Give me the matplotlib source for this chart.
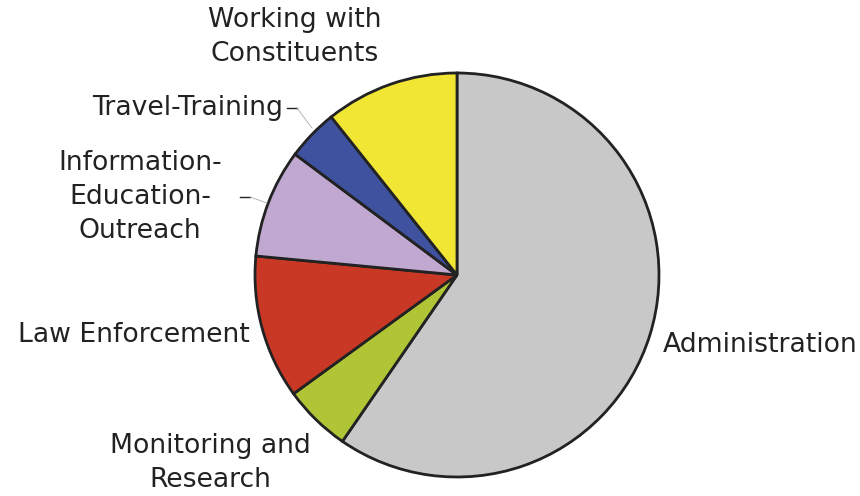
import matplotlib
matplotlib.use("Agg")
import matplotlib.pyplot as plt

categories = ["Administration", "Monitoring and\nResearch", "Law Enforcement",
              "Information-\nEducation-\nOutreach", "Travel-Training",
              "Working with\nConstituents"]
values = [59.6, 5.4, 11.5, 8.7, 4.1, 10.7]
colors = ["#c8c8c8", "#b0c535", "#c83825", "#c0a8d0", "#3f52a0", "#f2e635"]

W, H = 860, 496
fig = plt.figure(figsize=(W / 100, H / 100), dpi=100)
ax = fig.add_axes([0, 0, 1, 1])
ax.set_xlim(0, W)
ax.set_ylim(0, H)
ax.set_aspect("equal")
ax.axis("off")

cx, cy, r = 457, H - 275, 202
ax.pie(values, colors=colors, startangle=90, counterclock=False,
       center=(cx, cy), radius=r, frame=True,
       wedgeprops=dict(edgecolor="#222222", linewidth=2))
ax.set_xlim(0, W)
ax.set_ylim(0, H)
ax.axis("off")

tc = "#222222"
fs = 19.2
ls = 1.42
def T(x, y, s, ha):
    ax.text(x, H - y, s, ha=ha, va="center", fontsize=fs, color=tc,
            linespacing=ls, family="DejaVu Sans")

T(295, 37, categories[5], "center")
T(283, 108, categories[4], "right")
T(140, 197, categories[3], "center")
T(250, 335, categories[2], "right")
T(210, 463, categories[1], "center")
T(663, 345, categories[0], "left")

# leader lines
ax.plot([287, 297], [H - 108, H - 108], color="#222222", lw=1)
ax.plot([297, 312], [H - 108, H - 128], color="#aaaaaa", lw=0.6)
ax.plot([240, 250], [H - 197, H - 197], color="#222222", lw=1)
ax.plot([250, 267], [H - 197, H - 203], color="#aaaaaa", lw=0.6)

fig.savefig("out.png", dpi=100)
